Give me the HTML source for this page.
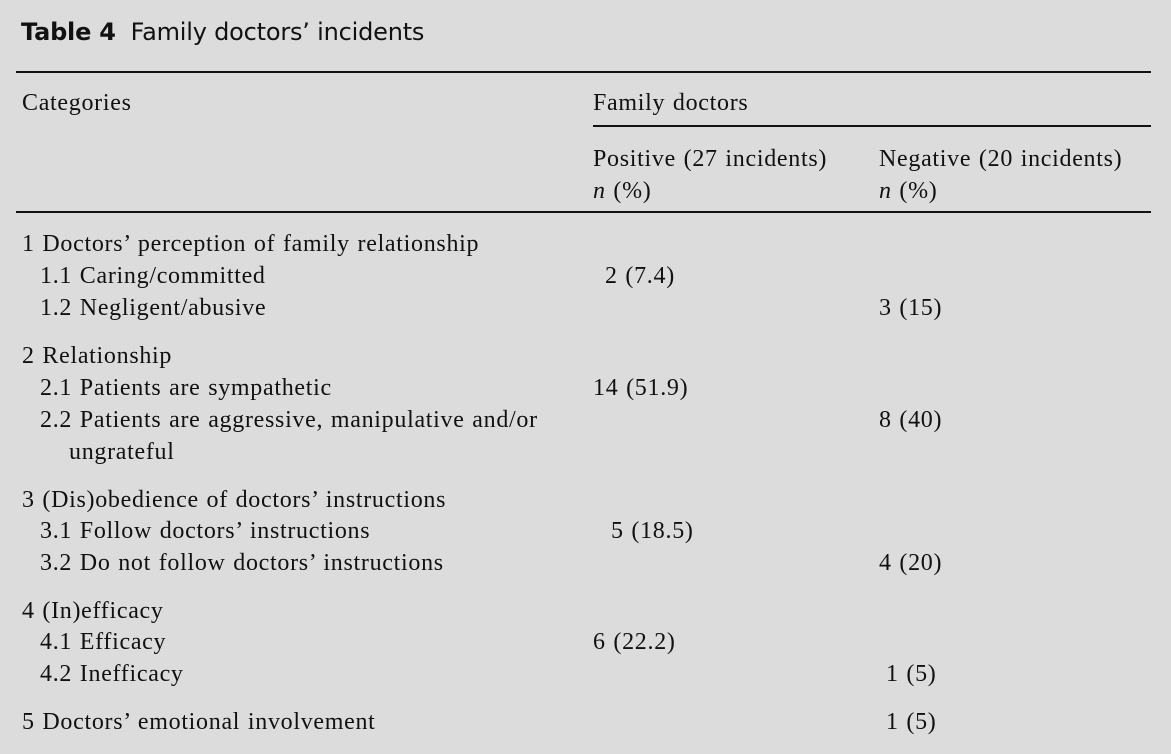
<!DOCTYPE html>
<html><head><meta charset="utf-8"><style>
html,body{margin:0;padding:0}
body{width:1171px;height:754px;background:#dcdcdc;position:relative;overflow:hidden;color:#111}
.t{position:absolute;font-family:"Liberation Serif",serif;font-size:24px;line-height:24px;white-space:nowrap;letter-spacing:0.7px;word-spacing:1px;margin-top:2px}
.h{position:absolute;font-family:"DejaVu Sans","Liberation Sans",sans-serif;font-size:24px;line-height:26px;white-space:nowrap;letter-spacing:-0.2px}
.l{position:absolute;height:2px;background:#111}
i{font-style:italic}
</style></head><body>
<div class="h" style="left:21px;top:19px"><b>Table 4</b>&nbsp; Family doctors’ incidents</div>
<div class="l" style="left:16px;width:1135px;top:71px"></div>
<div class="t" style="left:22px;top:89px">Categories</div>
<div class="t" style="left:593px;top:89px">Family doctors</div>
<div class="l" style="left:593px;width:558px;top:125px"></div>
<div class="t" style="left:593px;top:145px">Positive (27 incidents)</div>
<div class="t" style="left:879px;top:145px">Negative (20 incidents)</div>
<div class="t" style="left:593px;top:177px"><i>n</i> (%)</div>
<div class="t" style="left:879px;top:177px"><i>n</i> (%)</div>
<div class="l" style="left:16px;width:1135px;top:211px"></div>

<div class="t" style="left:22px;top:230px">1 Doctors’ perception of family relationship</div>
<div class="t" style="left:40px;top:262px">1.1 Caring/committed</div>
<div class="t" style="left:605px;top:262px">2 (7.4)</div>
<div class="t" style="left:40px;top:294px">1.2 Negligent/abusive</div>
<div class="t" style="left:879px;top:294px">3 (15)</div>

<div class="t" style="left:22px;top:342px">2 Relationship</div>
<div class="t" style="left:40px;top:374px">2.1 Patients are sympathetic</div>
<div class="t" style="left:593px;top:374px">14 (51.9)</div>
<div class="t" style="left:40px;top:406px">2.2 Patients are aggressive, manipulative and/or</div>
<div class="t" style="left:879px;top:406px">8 (40)</div>
<div class="t" style="left:69px;top:438px">ungrateful</div>

<div class="t" style="left:22px;top:486px">3 (Dis)obedience of doctors’ instructions</div>
<div class="t" style="left:40px;top:517px">3.1 Follow doctors’ instructions</div>
<div class="t" style="left:611px;top:517px">5 (18.5)</div>
<div class="t" style="left:40px;top:549px">3.2 Do not follow doctors’ instructions</div>
<div class="t" style="left:879px;top:549px">4 (20)</div>

<div class="t" style="left:22px;top:597px">4 (In)efficacy</div>
<div class="t" style="left:40px;top:628px">4.1 Efficacy</div>
<div class="t" style="left:593px;top:628px">6 (22.2)</div>
<div class="t" style="left:40px;top:660px">4.2 Inefficacy</div>
<div class="t" style="left:886px;top:660px">1 (5)</div>

<div class="t" style="left:22px;top:708px">5 Doctors’ emotional involvement</div>
<div class="t" style="left:886px;top:708px">1 (5)</div>
</body></html>
